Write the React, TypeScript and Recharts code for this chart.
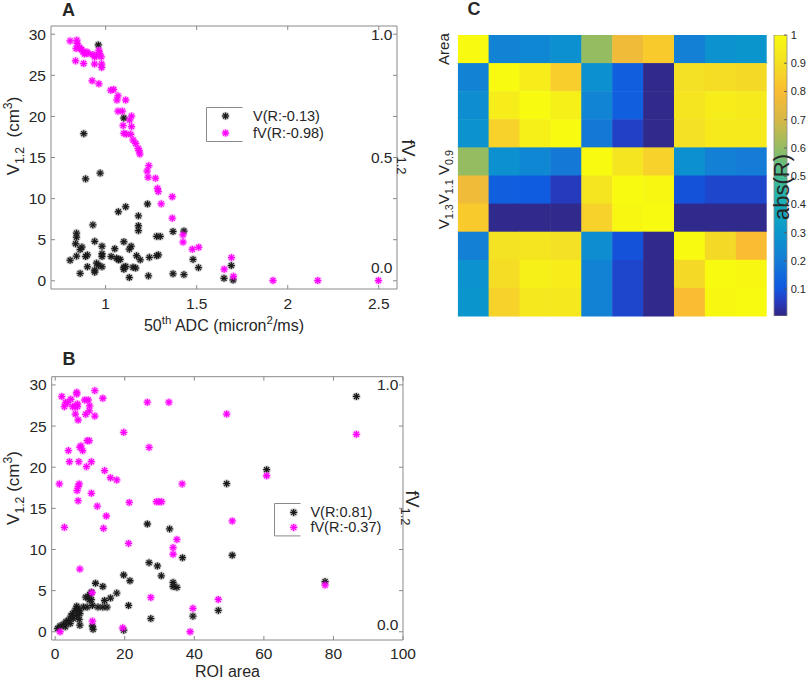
import React from "react";
import {
  Bar,
  BarChart,
  Legend,
  ReferenceLine,
  Scatter,
  ScatterChart,
  XAxis,
  YAxis,
} from "recharts";

const FONT = "'Liberation Sans', Arial, Helvetica, sans-serif";
const INK = "#262626";
const FRAME = "#8a8a8a";
const BLACK = "#1a1a1a";
const MAGENTA = "#ff00ff";

type Pt = [number, number];

// panel A: 50th percentile ADC vs V1.2 (left axis) and fV1.2 (right axis)
const adcVolume: Pt[] = [
  [0.96, 28.7], [0.88, 17.9], [0.89, 12.4], [0.97, 13.1], [1.1, 19.8], [1.07, 8.4],
  [1.11, 9.0], [1.23, 9.35], [0.93, 6.8], [1.18, 7.9], [1.18, 6.7], [1.18, 6.1],
  [0.84, 5.8], [0.84, 5.3], [0.835, 4.5], [0.87, 4.1], [0.86, 3.8], [0.94, 4.8],
  [0.98, 4.2], [0.805, 2.5], [0.84, 3.0], [0.89, 2.95], [0.9, 3.15], [0.9, 1.7],
  [0.86, 0.9], [0.94, 1.3], [0.94, 1.05], [0.95, 2.15], [0.96, 1.9], [0.98, 1.7],
  [0.98, 2.95], [0.98, 3.3], [1.05, 3.9], [1.03, 2.95], [1.06, 2.75], [1.07, 2.55],
  [1.08, 2.6], [1.1, 4.75], [1.13, 3.85], [1.14, 4.2], [1.1, 1.65], [1.1, 1.4],
  [1.11, 1.75], [1.13, 0.4], [1.15, 1.65], [1.165, 1.55], [1.17, 3.05], [1.19, 2.55],
  [1.24, 2.85], [1.235, 0.6], [1.28, 3.05], [1.29, 3.15], [1.28, 5.4], [1.3, 5.4],
  [1.37, 6.0], [1.43, 6.05], [1.37, 0.85], [1.43, 0.75], [1.48, 2.6], [1.51, 1.6],
  [1.65, 0.3], [1.69, 1.85], [1.7, 0.1],
];

const adcFraction: Pt[] = [
  [0.805, 0.973], [0.842, 0.976], [0.844, 0.962], [0.838, 0.942], [0.835, 0.892],
  [0.857, 0.946], [0.868, 0.938], [0.875, 0.93], [0.879, 0.881], [0.884, 0.92],
  [0.897, 0.928], [0.903, 0.922], [0.93, 0.918], [0.939, 0.908], [0.949, 0.912],
  [0.963, 0.935], [0.967, 0.922], [0.976, 0.908], [0.939, 0.879], [0.978, 0.879],
  [0.978, 0.865], [0.926, 0.811], [0.963, 0.799], [1.028, 0.773], [1.044, 0.776],
  [1.068, 0.75], [1.062, 0.733], [1.11, 0.733], [1.068, 0.688], [1.092, 0.688],
  [1.142, 0.668], [1.132, 0.652], [1.096, 0.63], [1.142, 0.625], [1.1, 0.598],
  [1.114, 0.595], [1.138, 0.594], [1.151, 0.571], [1.165, 0.557], [1.178, 0.537],
  [1.184, 0.528], [1.188, 0.514], [1.237, 0.467], [1.228, 0.445], [1.233, 0.42],
  [1.274, 0.416], [1.285, 0.375], [1.289, 0.362], [1.305, 0.312], [1.366, 0.341],
  [1.366, 0.254], [1.425, 0.186], [1.425, 0.157], [1.476, 0.128], [1.511, 0.136],
  [1.651, 0.047], [1.691, 0.094], [1.702, 0.018], [1.919, 0.001], [2.165, 0.001],
  [2.498, 0.001],
];

// panel B: ROI area vs V1.2 and fV1.2
const areaVolume: Pt[] = [
  [86.6, 28.6], [60.8, 19.7], [49.3, 18.0], [26.5, 13.1], [32.9, 12.5], [50.9, 9.3],
  [36.6, 9.0], [27.0, 8.4], [29.4, 8.0], [30.5, 6.8], [19.7, 6.9], [21.5, 6.2],
  [33.9, 6.0], [33.9, 5.5], [35.0, 5.4], [11.6, 5.9], [13.7, 5.5], [17.7, 4.7],
  [15.9, 4.1], [14.2, 3.8], [14.9, 3.0], [21.1, 3.2], [27.5, 1.6], [39.6, 1.9],
  [46.9, 2.6], [77.6, 6.1], [19.7, 0.2], [10.7, 0.7], [10.9, 0.3], [7.1, 0.8],
  [10.4, 4.8], [9.9, 4.5], [8.8, 4.2], [9.8, 3.9], [10.4, 3.9], [10.7, 3.2],
  [9.2, 3.0], [8.1, 3.0], [6.2, 3.1], [6.3, 2.8], [6.9, 2.6], [5.7, 2.6],
  [7.1, 2.2], [5.0, 2.2], [6.2, 2.0], [4.5, 1.9], [5.2, 1.6], [3.8, 1.4],
  [3.1, 1.2], [2.4, 0.9], [1.4, 0.7], [0.7, 0.4], [2.9, 0.6], [4.3, 1.0],
  [6.9, 1.5], [12.3, 3.0], [13.7, 3.0],
];

const areaFraction: Pt[] = [
  [1.2, 0.599], [1.9, 0.953], [2.65, 0.912], [2.65, 0.423], [3.0, 0.928], [3.5, 0.928],
  [3.8, 0.734], [4.1, 0.689], [4.5, 0.942], [5.0, 0.912], [5.7, 0.912], [6.4, 0.912],
  [6.2, 0.97], [6.2, 0.963], [5.8, 0.882], [6.4, 0.923], [6.6, 0.858], [6.8, 0.689],
  [7.1, 0.747], [7.4, 0.753], [6.9, 0.599], [6.6, 0.588], [6.3, 0.572], [6.6, 0.531],
  [7.1, 0.254], [7.9, 0.734], [8.5, 0.939], [9.5, 0.939], [8.8, 0.881], [9.8, 0.895],
  [9.2, 0.774], [9.8, 0.774], [9.0, 0.669], [9.9, 0.915], [10.4, 0.689], [10.4, 0.561],
  [11.4, 0.977], [11.4, 0.874], [12.1, 0.509], [13.7, 0.946], [13.9, 0.419], [14.2, 0.653],
  [14.7, 0.469], [15.9, 0.624], [17.7, 0.615], [19.7, 0.808], [21.3, 0.524], [21.1, 0.358],
  [19.4, 0.016], [10.7, 0.043], [10.6, 0.158], [1.4, 0.0], [26.5, 0.93], [27.0, 0.747],
  [27.5, 0.139], [29.1, 0.527], [29.8, 0.527], [30.6, 0.527], [32.7, 0.93], [33.9, 0.341],
  [33.9, 0.314], [35.0, 0.374], [36.5, 0.599], [38.8, 0.0], [39.6, 0.095], [46.9, 0.131],
  [49.3, 0.882], [50.9, 0.449], [60.8, 0.632], [77.6, 0.189], [86.6, 0.8],
];

const adcTicks = [1, 1.5, 2, 2.5];
const areaTicks = [0, 20, 40, 60, 80, 100];
const volumeTicks = [0, 5, 10, 15, 20, 25, 30];
const fractionTicks = volumeTicks.map((v) => v / 30);
const adcFractionLabels = [0, 0.5, 1];
const areaFractionLabels = [0, 1];

// panel C: abs(R) between the 10 parameters
const heatRowLabels = [
  { at: 0.5, text: "Area" },
  { at: 5.5, text: "V_{1.3}V_{1.1} V_{0.9}" },
];
const heatColLabels = [
  { at: 2.5, text: "25^{th} 50^{th} 75^{th}" },
  { at: 8.5, text: "fV_{0.9}fV_{1.1} fV_{1.3}" },
];
const absR = [
  [1.0, 0.22, 0.24, 0.27, 0.6, 0.77, 0.84, 0.21, 0.28, 0.29],
  [0.22, 1.0, 0.95, 0.85, 0.27, 0.12, 0.01, 0.9, 0.89, 0.88],
  [0.26, 0.95, 1.0, 0.96, 0.23, 0.12, 0.01, 0.92, 0.95, 0.94],
  [0.28, 0.86, 0.96, 1.0, 0.19, 0.06, 0.01, 0.9, 0.94, 0.94],
  [0.6, 0.27, 0.24, 0.19, 1.0, 0.92, 0.86, 0.27, 0.21, 0.2],
  [0.77, 0.12, 0.11, 0.05, 0.92, 1.0, 0.99, 0.09, 0.07, 0.07],
  [0.84, 0.01, 0.01, 0.01, 0.86, 0.99, 1.0, 0.01, 0.01, 0.01],
  [0.21, 0.91, 0.92, 0.9, 0.26, 0.09, 0.01, 1.0, 0.88, 0.8],
  [0.28, 0.89, 0.96, 0.95, 0.22, 0.07, 0.01, 0.88, 1.0, 0.99],
  [0.29, 0.86, 0.93, 0.93, 0.22, 0.07, 0.01, 0.8, 0.99, 1.0],
];
const colorbarTicks = [0.1, 0.2, 0.3, 0.4, 0.5, 0.6, 0.7, 0.8, 0.9, 1];
const colorbarData = [{ name: "abs(R)", low: 0.005, high: 1 }];

// parula-ish colormap anchors [t, r, g, b]
const PARULA: number[][] = [
  [0.0, 50, 38, 128],
  [0.05, 38, 58, 190],
  [0.1, 15, 88, 225],
  [0.2, 20, 124, 214],
  [0.3, 10, 152, 204],
  [0.4, 22, 174, 184],
  [0.5, 72, 188, 145],
  [0.6, 150, 188, 98],
  [0.7, 215, 184, 70],
  [0.8, 250, 188, 50],
  [0.9, 244, 224, 36],
  [1.0, 248, 250, 16],
];

function parula(t: number) {
  const v = Math.max(0, Math.min(1, t));
  for (let i = 1; i < PARULA.length; i++) {
    const a = PARULA[i - 1];
    const b = PARULA[i];
    if (v <= b[0]) {
      const k = (v - a[0]) / (b[0] - a[0]);
      const c = [1, 2, 3].map((j) => Math.round(a[j] + (b[j] - a[j]) * k));
      return `rgb(${c[0]},${c[1]},${c[2]})`;
    }
  }
  return "rgb(248,250,16)";
}

// text with _{sub} and ^{sup}
function rich(src: string, size: number) {
  const out: React.ReactNode[] = [];
  const re = /([_^])\{([^}]*)\}|([^_^]+)/g;
  let m: RegExpExecArray | null;
  let shift = 0;
  let k = 0;
  while ((m = re.exec(src))) {
    if (m[1]) {
      const target = m[1] === "_" ? size * 0.3 : -size * 0.42;
      out.push(
        <tspan key={k++} dy={target - shift} fontSize={size * 0.72}>
          {m[2]}
        </tspan>,
      );
      shift = target;
    } else {
      out.push(
        <tspan key={k++} dy={-shift} fontSize={size}>
          {m[3]}
        </tspan>,
      );
      shift = 0;
    }
  }
  return out;
}

function Txt(props: {
  x: number;
  y: number;
  size: number;
  text: string;
  rotate?: number;
  anchor?: "start" | "middle" | "end";
  bold?: boolean;
  color?: string;
}) {
  const { x, y, size, text, rotate = 0, anchor = "middle", bold, color = INK } = props;
  return (
    <text
      x={x}
      y={y}
      fontSize={size}
      fontFamily={FONT}
      fontWeight={bold ? "bold" : "normal"}
      fill={color}
      textAnchor={anchor}
      transform={rotate ? `rotate(${rotate} ${x} ${y})` : undefined}
      style={{ whiteSpace: "pre" }}
    >
      {rich(text, size)}
    </text>
  );
}

function Asterisk({ cx, cy, color }: { cx: number; cy: number; color: string }) {
  const r = 3.5;
  const d = r * 0.71;
  return (
    <g>
      <circle cx={cx} cy={cy} r={4.3} fill={color} fillOpacity={0.2} />
      <g stroke={color} strokeWidth={1.3}>
        <line x1={cx - r} y1={cy} x2={cx + r} y2={cy} />
        <line x1={cx} y1={cy - r} x2={cx} y2={cy + r} />
        <line x1={cx - d} y1={cy - d} x2={cx + d} y2={cy + d} />
        <line x1={cx - d} y1={cy + d} x2={cx + d} y2={cy - d} />
      </g>
    </g>
  );
}

const starShape = (color: string) => (p: any) =>
  p.cx == null ? <g /> : <Asterisk cx={p.cx} cy={p.cy} color={color} />;

const rows = (pts: Pt[]) => pts.map(([x, y]) => ({ x, y }));

const MARK = 4;

const tickBottom = (dy: number) => (p: any) => (
  <g>
    <line x1={p.x} x2={p.x} y1={p.y} y2={p.y - MARK} stroke={FRAME} />
    <text x={p.x} y={p.y + dy} textAnchor="middle" fontSize={15.5} fontFamily={FONT} fill={INK}>
      {String(p.payload.value)}
    </text>
  </g>
);

const tickTop = (p: any) => (
  <line x1={p.x} x2={p.x} y1={p.y} y2={p.y + MARK} stroke={FRAME} />
);

const tickLeft = (p: any) => (
  <g>
    <line x1={p.x} x2={p.x + MARK} y1={p.y} y2={p.y} stroke={FRAME} />
    <text x={p.x - 5} y={p.y + 5.5} textAnchor="end" fontSize={15.5} fontFamily={FONT} fill={INK}>
      {String(p.payload.value)}
    </text>
  </g>
);

const tickRight = (labels: number[], zeroShift: number) => (p: any) => {
  const v = p.payload.value as number;
  const show = labels.some((l) => Math.abs(l - v) < 1e-6);
  return (
    <g>
      <line x1={p.x} x2={p.x - MARK} y1={p.y} y2={p.y} stroke={FRAME} />
      {show && (
        <text
          x={p.x - 4.5}
          y={p.y + 5.5 + (v === 0 ? zeroShift : 0)}
          textAnchor="end"
          fontSize={15.5}
          fontFamily={FONT}
          fill={INK}
        >
          {v.toFixed(1)}
        </text>
      )}
    </g>
  );
};

const legendBox =
  (boxW: number, boxH: number, markX: number, textX: number, rowY: number[]) => (p: any) => {
    const items = (p.payload || []) as any[];
    const colors = [BLACK, MAGENTA];
    return (
      <svg width={150} height={boxH + 1} style={{ display: "block", overflow: "visible" }}>
        <path
          d={`M${boxW} 0.5 H0.5 V${boxH - 0.5} H${boxW}`}
          fill="none"
          stroke={FRAME}
          strokeWidth={1}
        />
        {items.map((it, i) => (
          <g key={i}>
            <Asterisk cx={markX} cy={rowY[i]} color={colors[i]} />
            <text x={textX} y={rowY[i] + 5} fontSize={14.5} fontFamily={FONT} fill={INK}>
              {it.value}
            </text>
          </g>
        ))}
      </svg>
    );
  };

function PanelA() {
  const dom: [number, number] = [0.7, 2.6];
  return (
    <ScatterChart width={430} height={340} margin={{ top: 16, right: 13, bottom: 0, left: 0 }}>
      <XAxis
        xAxisId="b"
        dataKey="x"
        type="number"
        domain={dom}
        ticks={adcTicks}
        interval={0}
        height={51}
        allowDataOverflow
        axisLine={{ stroke: FRAME }}
        tickLine={false}
        tickSize={0}
        tickMargin={0}
        tick={tickBottom(20)}
        label={() => (
          <Txt x={224} y={331} size={16} text={"50^{th} ADC (micron^{2}/ms)"} />
        )}
      />
      <XAxis
        xAxisId="t"
        orientation="top"
        dataKey="x"
        type="number"
        domain={dom}
        ticks={adcTicks}
        interval={0}
        height={10}
        allowDataOverflow
        axisLine={{ stroke: FRAME }}
        tickLine={false}
        tickSize={0}
        tickMargin={0}
        tick={tickTop}
        label={() => <Txt x={62} y={16} size={18} bold anchor="start" text="A" />}
      />
      <YAxis
        yAxisId="v"
        dataKey="y"
        type="number"
        domain={[-1, 31]}
        ticks={volumeTicks}
        interval={0}
        width={51}
        allowDataOverflow
        axisLine={{ stroke: FRAME }}
        tickLine={false}
        tickSize={0}
        tickMargin={0}
        tick={tickLeft}
        label={() => (
          <Txt x={19} y={136} size={17} rotate={-90} text={"V_{1.2}  (cm^{3})"} />
        )}
      />
      <YAxis
        yAxisId="f"
        orientation="right"
        dataKey="y"
        type="number"
        domain={[-1 / 30, 31 / 30]}
        ticks={fractionTicks}
        interval={0}
        width={20}
        allowDataOverflow
        axisLine={{ stroke: FRAME }}
        tickLine={false}
        tickSize={0}
        tickMargin={0}
        tick={tickRight(adcFractionLabels, -13)}
        label={() => <Txt x={402} y={157} size={18} rotate={90} text={"fV_{1.2}"} />}
      />
      <Legend
        layout="horizontal"
        align="center"
        verticalAlign="middle"
        wrapperStyle={{ left: 205.5, top: 107, width: 150, height: 36 }}
        content={legendBox(36.5, 35, 19.5, 47, [9, 26])}
      />
      <Scatter
        name="V(R:-0.13)"
        xAxisId="b"
        yAxisId="v"
        data={rows(adcVolume)}
        fill={BLACK}
        shape={starShape(BLACK)}
        isAnimationActive={false}
      />
      <Scatter
        name="fV(R:-0.98)"
        xAxisId="b"
        yAxisId="f"
        data={rows(adcFraction)}
        fill={MAGENTA}
        shape={starShape(MAGENTA)}
        isAnimationActive={false}
      />
    </ScatterChart>
  );
}

function PanelB() {
  const dom: [number, number] = [-1, 100];
  return (
    <ScatterChart width={430} height={351} margin={{ top: 36.7, right: 7, bottom: 0, left: 0 }}>
      <XAxis
        xAxisId="b"
        dataKey="x"
        type="number"
        domain={dom}
        ticks={areaTicks}
        interval={0}
        height={41}
        allowDataOverflow
        axisLine={{ stroke: FRAME }}
        tickLine={false}
        tickSize={0}
        tickMargin={0}
        tick={tickBottom(19)}
        label={() => <Txt x={227.5} y={347} size={16} text="ROI area" />}
      />
      <XAxis
        xAxisId="t"
        orientation="top"
        dataKey="x"
        type="number"
        domain={dom}
        ticks={areaTicks}
        interval={0}
        height={10}
        allowDataOverflow
        axisLine={{ stroke: FRAME }}
        tickLine={false}
        tickSize={0}
        tickMargin={0}
        tick={tickTop}
        label={() => <Txt x={62.5} y={35} size={18} bold anchor="start" text="B" />}
      />
      <YAxis
        yAxisId="v"
        dataKey="y"
        type="number"
        domain={[-1, 31]}
        ticks={volumeTicks}
        interval={0}
        width={51.7}
        allowDataOverflow
        axisLine={{ stroke: FRAME }}
        tickLine={false}
        tickSize={0}
        tickMargin={0}
        tick={tickLeft}
        label={() => (
          <Txt x={19} y={158} size={17} rotate={-90} text={"V_{1.2} (cm^{3})"} />
        )}
      />
      <YAxis
        yAxisId="f"
        orientation="right"
        dataKey="y"
        type="number"
        domain={[-1 / 30, 31 / 30]}
        ticks={fractionTicks}
        interval={0}
        width={20}
        allowDataOverflow
        axisLine={{ stroke: FRAME }}
        tickLine={false}
        tickSize={0}
        tickMargin={0}
        tick={tickRight(areaFractionLabels, -7)}
        label={() => <Txt x={406} y={178} size={18} rotate={90} text={"fV_{1.2}"} />}
      />
      <Legend
        layout="horizontal"
        align="center"
        verticalAlign="middle"
        wrapperStyle={{ left: 274.3, top: 173.3, width: 150, height: 35 }}
        content={legendBox(26.5, 33.4, 19.7, 36.4, [9.4, 24.4])}
      />
      <Scatter
        name="V(R:0.81)"
        xAxisId="b"
        yAxisId="v"
        data={rows(areaVolume)}
        fill={BLACK}
        shape={starShape(BLACK)}
        isAnimationActive={false}
      />
      <Scatter
        name="fV(R:-0.37)"
        xAxisId="b"
        yAxisId="f"
        data={rows(areaFraction)}
        fill={MAGENTA}
        shape={starShape(MAGENTA)}
        isAnimationActive={false}
      />
    </ScatterChart>
  );
}

// heatmap geometry (plot area 309 x 281 px for a 10 x 10 grid)
const HM_W = 309;
const HM_H = 281;
const CELL_W = HM_W / absR.length;
const CELL_H = HM_H / absR.length;

const heatCells = absR.flatMap((row, r) =>
  row.map((v, c) => ({ x: c + 0.5, y: r + 0.5, v })),
);

const heatShape = (p: any) =>
  p.cx == null ? (
    <g />
  ) : (
    <rect
      x={p.cx - CELL_W / 2}
      y={p.cy - CELL_H / 2}
      width={CELL_W + 0.5}
      height={CELL_H + 0.5}
      fill={parula(p.payload.v)}
    />
  );

const heatRowTick = (p: any) => {
  const item = heatRowLabels.find((l) => Math.abs(l.at - p.payload.value) < 1e-6);
  if (!item) return <g />;
  return <Txt x={p.x - 9} y={p.y} size={15} rotate={-90} text={item.text} />;
};

const heatColTick = (p: any) => {
  const item = heatColLabels.find((l) => Math.abs(l.at - p.payload.value) < 1e-6);
  if (!item) return <g />;
  const dx = item.text.startsWith("f") ? 8 : 1;
  return <Txt x={p.x + dx} y={p.y - 6} size={15} text={item.text} />;
};

function PanelC() {
  return (
    <ScatterChart width={370} height={330} margin={{ top: 25, right: 3.3, bottom: 14, left: 37.7 }}>
      <XAxis xAxisId="b" dataKey="x" type="number" domain={[0, 10]} hide allowDataOverflow />
      <XAxis
        xAxisId="t"
        orientation="top"
        dataKey="x"
        type="number"
        domain={[0, 10]}
        ticks={heatColLabels.map((l) => l.at)}
        interval={0}
        height={10}
        axisLine={false}
        tickLine={false}
        tickSize={0}
        tickMargin={0}
        tick={heatColTick}
        label={() => <Txt x={67.5} y={15} size={18} bold anchor="start" text="C" />}
      />
      <YAxis
        yAxisId="r"
        dataKey="y"
        type="number"
        domain={[0, 10]}
        reversed
        ticks={heatRowLabels.map((l) => l.at)}
        interval={0}
        width={20}
        axisLine={false}
        tickLine={false}
        tickSize={0}
        tickMargin={0}
        tick={heatRowTick}
      />
      <Scatter
        xAxisId="b"
        yAxisId="r"
        data={heatCells}
        shape={heatShape}
        isAnimationActive={false}
      />
      {[1, 4, 7].map((b) => (
        <ReferenceLine key={`x${b}`} xAxisId="b" yAxisId="r" x={b} stroke="#b8b88c" strokeWidth={1} />
      ))}
      {[1, 4, 7].map((b) => (
        <ReferenceLine key={`y${b}`} xAxisId="b" yAxisId="r" y={b} stroke="#b8b88c" strokeWidth={1} />
      ))}
    </ScatterChart>
  );
}

const colorbarTick = (p: any) => {
  const v = p.payload.value as number;
  return (
    <g>
      <line x1={p.x} x2={p.x - 2.5} y1={p.y} y2={p.y} stroke="#555" />
      <text x={p.x + 4} y={p.y + 4} fontSize={11} fontFamily={FONT} fill={INK}>
        {v === 1 ? "1" : v.toFixed(1)}
      </text>
    </g>
  );
};

function Colorbar() {
  return (
    <BarChart
      width={45}
      height={330}
      data={colorbarData}
      margin={{ top: 35, right: 8.3, bottom: 14, left: 4 }}
      barCategoryGap={0}
      barGap={0}
    >
      <defs>
        <linearGradient id="parulaBar" x1="0" y1="1" x2="0" y2="0">
          {PARULA.map((a) => (
            <stop key={a[0]} offset={a[0]} stopColor={`rgb(${a[1]},${a[2]},${a[3]})`} />
          ))}
        </linearGradient>
      </defs>
      <XAxis dataKey="name" hide />
      <YAxis
        orientation="right"
        type="number"
        domain={[0.005, 1]}
        ticks={colorbarTicks}
        interval={0}
        width={20}
        allowDataOverflow
        axisLine={false}
        tickLine={false}
        tickSize={0}
        tickMargin={0}
        tick={colorbarTick}
        label={() => <Txt x={19} y={187} size={22} rotate={-90} text="abs(R)" />}
      />
      <Bar
        dataKey={(d: any) => [d.low, d.high]}
        fill="url(#parulaBar)"
        stroke={FRAME}
        strokeWidth={0.8}
        isAnimationActive={false}
      />
    </BarChart>
  );
}

export default function App() {
  return (
    <div
      style={{
        position: "absolute",
        left: 0,
        top: 0,
        width: 810,
        height: 681,
        background: "#fff",
        fontFamily: FONT,
      }}
    >
      <div style={{ position: "absolute", left: 0, top: 0 }}>
        <PanelA />
      </div>
      <div style={{ position: "absolute", left: 0, top: 330 }}>
        <PanelB />
      </div>
      <div style={{ position: "absolute", left: 400, top: 0 }}>
        <PanelC />
      </div>
      <div style={{ position: "absolute", left: 770, top: 0 }}>
        <Colorbar />
      </div>
    </div>
  );
}
